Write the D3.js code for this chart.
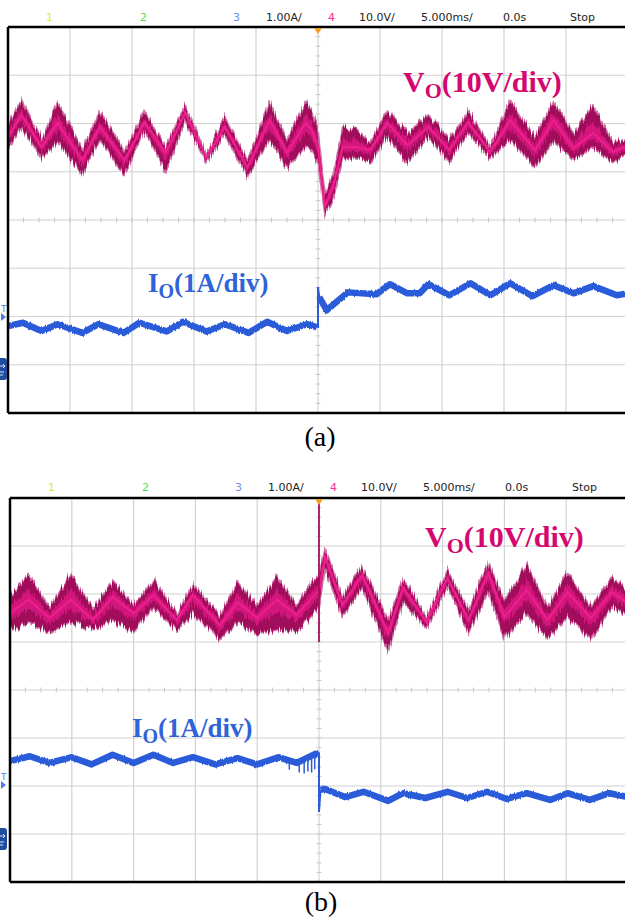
<!DOCTYPE html>
<html>
<head>
<meta charset="utf-8">
<title>Load step waveforms</title>
<script src="https://d3js.org/d3.v7.min.js"></script>
<style>
  body { margin: 0; background: #fff; }
  svg { display: block; }
</style>
</head>
<body>
<div id="chart"></div>
<script>
// ---- scope header ----
var headerLabels = ["1", "2", "3", "1.00A/", "4", "10.0V/", "5.000ms/", "0.0s", "Stop"];
var headerColors = ["#e6e619", "#4cdc4c", "#6f8fe8", "#222", "#ee3399", "#222", "#222", "#222", "#222"];

// ---- (a) output voltage, time in ms, level in screen divisions ----
var vaT   = [-25, -23.9, -22.3, -21.0, -19.0, -17.6, -15.6, -14.0, -12.3, -10.7, -9.0, -7.5, -5.7, -3.9, -2.5, -1.0, -0.5, 0, 0.56, 1.2, 2.0, 3.1, 4.2, 5.6, 7.2, 8.9, 10.6, 12.1, 13.9, 15.5, 17.5, 19.0, 20.6, 22.2, 23.8, 25];
var vaMid = [1.72, 2.18, 1.51, 2.01, 1.24, 1.93, 1.24, 2.03, 1.39, 2.22, 1.28, 1.93, 1.08, 2.07, 1.39, 2.01, 1.87, 1.51, 0.27, 0.68, 1.51, 1.51, 1.45, 2.01, 1.55, 1.93, 1.45, 2.03, 1.41, 2.07, 1.45, 2.07, 1.49, 1.80, 1.41, 1.55];
var vaTop = [1.97, 2.49, 1.66, 2.45, 1.45, 2.28, 1.41, 2.28, 1.51, 2.38, 1.35, 2.13, 1.24, 2.45, 1.66, 2.45, 2.28, 1.87, 0.56, 0.93, 1.93, 1.87, 1.60, 2.28, 1.80, 2.18, 1.66, 2.28, 1.51, 2.49, 1.72, 2.45, 1.80, 2.38, 1.60, 1.70];
var vaBot = [1.45, 1.93, 1.28, 1.60, 0.97, 1.66, 0.93, 1.87, 0.99, 2.03, 1.18, 1.76, 0.89, 1.66, 1.10, 1.51, 1.45, 1.14, 0.10, 0.41, 1.24, 1.31, 1.18, 1.72, 1.18, 1.72, 1.20, 1.82, 1.28, 1.66, 1.10, 1.62, 1.24, 1.51, 1.18, 1.39];

// ---- (a) output current ----
var iaT   = [-25, -23.8, -22.3, -21.0, -19.0, -17.7, -15.7, -14.4, -12.2, -10.9, -9.0, -7.5, -5.6, -4.1, -2.5, -0.9, -0.1,
             0.1, 0.7, 2.4, 4.7, 5.8, 7.2, 8.2, 8.9, 10.6, 12.3, 13.9, 15.5, 17.3, 19.0, 20.6, 22.2, 24.1, 25];
var iaMid = [-2.20, -2.13, -2.30, -2.16, -2.34, -2.16, -2.34, -2.13, -2.31, -2.11, -2.31, -2.16, -2.34, -2.11, -2.30, -2.16, -2.22,
             -1.60, -1.87, -1.50, -1.54, -1.33, -1.52, -1.52, -1.33, -1.56, -1.31, -1.56, -1.31, -1.58, -1.35, -1.52, -1.37, -1.56, -1.52];
var iaSpikeT = [-0.1, 0, 0, 0.1];
var iaSpikeY = [-2.22, -2.22, -1.39, -1.60];

// ---- (b) output voltage ----
var vbT   = [-25, -23.5, -21.8, -20.1, -18.3, -16.7, -15.0, -13.4, -11.5, -10.2, -8.0, -6.6, -5.0, -3.4, -1.8, -0.5, 0, 0.5, 1.9, 3.5, 5.6, 6.8, 8.7, 10.4, 12.1, 13.7, 15.0, 16.8, 18.5, 20.1, 22.0, 23.7, 25];
var vbMid = [1.60, 1.88, 1.50, 1.88, 1.46, 1.94, 1.60, 1.98, 1.46, 1.98, 1.35, 1.83, 1.50, 1.88, 1.56, 1.94, 2.08, 2.77, 1.77, 2.40, 1.19, 2.13, 1.42, 2.33, 1.46, 2.44, 1.52, 2.08, 1.46, 2.04, 1.50, 2.04, 1.81];
var vbTop = [1.94, 2.40, 1.73, 2.40, 1.71, 2.25, 1.77, 2.29, 1.60, 2.19, 1.56, 2.25, 1.77, 2.35, 1.77, 2.29, 2.40, 2.96, 1.94, 2.60, 1.46, 2.33, 1.52, 2.50, 1.67, 2.67, 1.88, 2.60, 1.73, 2.44, 1.73, 2.35, 2.08];
var vbBot = [1.25, 1.40, 1.19, 1.42, 1.25, 1.46, 1.19, 1.71, 1.25, 1.60, 1.04, 1.40, 1.15, 1.25, 1.21, 1.56, 1.71, 2.50, 1.52, 2.13, 0.79, 1.83, 1.29, 2.15, 1.19, 2.04, 1.04, 1.60, 1.08, 1.52, 1.04, 1.73, 1.56];
var vbSpikeT = [0, 0];
var vbSpikeY = [3.96, 1.0];

// ---- (b) output current ----
var ibT   = [-25, -23.4, -21.8, -20.0, -18.4, -16.7, -15.0, -13.4, -11.8, -10.2, -8.4, -6.6, -5.0, -3.3, -1.8, -0.3, -0.05,
             0.12, 0.5, 2.1, 3.6, 5.6, 6.8, 8.6, 10.4, 12.0, 13.6, 15.2, 16.8, 18.7, 20.1, 21.9, 23.5, 25];
var ibMid = [-1.48, -1.38, -1.52, -1.40, -1.55, -1.35, -1.52, -1.35, -1.52, -1.40, -1.55, -1.42, -1.55, -1.40, -1.52, -1.33, -1.35,
             -2.08, -2.06, -2.23, -2.12, -2.31, -2.15, -2.25, -2.12, -2.25, -2.12, -2.27, -2.15, -2.29, -2.15, -2.29, -2.15, -2.23];
var ibSpikeT = [-0.05, 0, 0, 0.12];
var ibSpikeY = [-1.35, -1.30, -2.54, -2.08];
var ibGlitchT  = [-2.4, -1.6, -1.2, -0.9, -0.6, -0.35];
var ibGlitchHi = [-1.45, -1.45, -1.42, -1.42, -1.40, -1.38];
var ibGlitchLo = [-1.66, -1.72, -1.74, -1.70, -1.72, -1.65];

function pts(t, a, b, c) {
    return t.map(function (v, i) {
        return { t: v, mid: a[i], top: b ? b[i] : null, bot: c ? c[i] : null };
    });
}

var panels = [
    { left: 8, top: 27, width: 620, height: 386, headerY: 21, caption: "(a)", captionY: 446,
      volt: pts(vaT, vaMid, vaTop, vaBot), cur: pts(iaT, iaMid),
      curSpike: pts(iaSpikeT, iaSpikeY), voltSpike: null, glitch: null,
      vLabel: [403, 92], iLabel: [148, 292], trigY: 317, gndY: 358 },
    { left: 10, top: 498, width: 618, height: 384, headerY: 491, caption: "(b)", captionY: 911,
      volt: pts(vbT, vbMid, vbTop, vbBot), cur: pts(ibT, ibMid),
      curSpike: pts(ibSpikeT, ibSpikeY), voltSpike: pts(vbSpikeT, vbSpikeY),
      glitch: pts(ibGlitchT, ibGlitchHi, ibGlitchLo),
      vLabel: [425, 547], iLabel: [132, 737], trigY: 785, gndY: 828 }
];

var svg = d3.select("#chart").append("svg")
    .attr("width", 625)
    .attr("height", 924);

var defs = svg.append("defs");
var f = defs.append("filter").attr("id", "noise")
    .attr("x", "-2%").attr("y", "-40%").attr("width", "104%").attr("height", "180%");
f.append("feTurbulence").attr("type", "fractalNoise").attr("baseFrequency", "0.7 0.02")
    .attr("numOctaves", 2).attr("seed", 4).attr("result", "turb");
var ct = f.append("feComponentTransfer").attr("in", "turb").attr("result", "turb2");
ct.append("feFuncR").attr("type", "linear").attr("slope", 0).attr("intercept", 0.5);
f.append("feDisplacementMap").attr("in", "SourceGraphic").attr("in2", "turb2")
    .attr("scale", 14).attr("xChannelSelector", "R").attr("yChannelSelector", "G");

// lighter jitter for the current traces
var f2 = defs.append("filter").attr("id", "noise2")
    .attr("x", "-2%").attr("y", "-40%").attr("width", "104%").attr("height", "180%");
f2.append("feTurbulence").attr("type", "fractalNoise").attr("baseFrequency", "0.7 0.02")
    .attr("numOctaves", 2).attr("seed", 9).attr("result", "turb");
var ct2 = f2.append("feComponentTransfer").attr("in", "turb").attr("result", "turb2");
ct2.append("feFuncR").attr("type", "linear").attr("slope", 0).attr("intercept", 0.5);
f2.append("feDisplacementMap").attr("in", "SourceGraphic").attr("in2", "turb2")
    .attr("scale", 3).attr("xChannelSelector", "R").attr("yChannelSelector", "G");

var headerX = [46, 140, 233, 266, 328, 359, 421, 503, 570];

panels.forEach(function (p, k) {
    var x = d3.scaleLinear().domain([-25, 25]).range([p.left, p.left + p.width]);
    var y = d3.scaleLinear().domain([-4, 4]).range([p.top + p.height, p.top]);
    var g = svg.append("g");

    // header
    g.selectAll(".hdr").data(headerLabels).enter().append("text")
        .attr("x", function (d, i) { return headerX[i] + p.left - 8; })
        .attr("y", p.headerY)
        .attr("fill", function (d, i) { return headerColors[i]; })
        .style("font-family", "DejaVu Sans, sans-serif")
        .style("font-size", "11px")
        .text(function (d) { return d; });

    defs.append("clipPath").attr("id", "clip" + k).append("rect")
        .attr("x", p.left).attr("y", p.top).attr("width", p.width).attr("height", p.height);

    // grid
    g.selectAll(".vg").data(x.ticks(10)).enter().append("line")
        .attr("x1", x).attr("x2", x).attr("y1", p.top).attr("y2", p.top + p.height)
        .style("stroke", "#d2d2d2").style("stroke-width", 1.2);
    g.selectAll(".hg").data(y.ticks(8)).enter().append("line")
        .attr("y1", y).attr("y2", y).attr("x1", p.left).attr("x2", p.left + p.width)
        .style("stroke", "#d2d2d2").style("stroke-width", 1.2);

    // minor ticks on the centre lines
    g.selectAll(".mx").data(d3.range(-25, 25.01, 1.25)).enter().append("line")
        .attr("x1", x).attr("x2", x).attr("y1", y(0) - 2.5).attr("y2", y(0) + 2.5)
        .style("stroke", "#c8c8c8").style("stroke-width", 1);
    g.selectAll(".my").data(d3.range(-4, 4.01, 0.2)).enter().append("line")
        .attr("y1", y).attr("y2", y).attr("x1", x(0) - 2.5).attr("x2", x(0) + 2.5)
        .style("stroke", "#c8c8c8").style("stroke-width", 1);

    var plot = g.append("g").attr("clip-path", "url(#clip" + k + ")");

    // voltage band
    var outer = d3.area().x(function (d) { return x(d.t); })
        .y0(function (d) { return y(d.bot); }).y1(function (d) { return y(d.top); });
    var inner = d3.area().x(function (d) { return x(d.t); })
        .y0(function (d) { return y(d.mid + 0.4 * (d.bot - d.mid)); })
        .y1(function (d) { return y(d.mid + 0.4 * (d.top - d.mid)); });
    var mid = d3.line().x(function (d) { return x(d.t); }).y(function (d) { return y(d.mid); });

    var band = plot.append("g").attr("filter", "url(#noise)");
    band.append("path").datum(p.volt).attr("d", outer)
        .style("fill", "#a0085a").style("stroke", "#cf6fa5").style("stroke-width", 1.5);
    band.append("path").datum(p.volt).attr("d", inner).style("fill", "#d2127b");
    plot.append("path").datum(p.volt).attr("d", mid)
        .style("fill", "none").style("stroke", "#ec1f8c").style("stroke-width", 2.2);

    if (p.voltSpike) {
        plot.append("path").datum(p.voltSpike).attr("d", mid)
            .style("fill", "none").style("stroke", "#a3105e").style("stroke-width", 1.8);
    }

    // current trace
    var before = p.cur.filter(function (d) { return d.t < 0; });
    var after = p.cur.filter(function (d) { return d.t > 0; });
    var curG = plot.append("g").attr("filter", "url(#noise2)");
    [before, after].forEach(function (seg) {
        curG.append("path").datum(seg).attr("d", mid)
            .style("fill", "none").style("stroke", "#2c5cda").style("stroke-width", 6.5)
            .style("stroke-linejoin", "round").style("stroke-linecap", "butt");
    });
    plot.append("path").datum(p.curSpike).attr("d", mid)
        .style("fill", "none").style("stroke", "#2c5cda").style("stroke-width", 2);
    if (p.glitch) {
        plot.selectAll(".gl").data(p.glitch).enter().append("line")
            .attr("x1", function (d) { return x(d.t); }).attr("x2", function (d) { return x(d.t); })
            .attr("y1", function (d) { return y(d.mid); }).attr("y2", function (d) { return y(d.top); })
            .style("stroke", "#2c5cda").style("stroke-width", 1.5);
    }

    // frame
    g.append("line").attr("x1", p.left).attr("x2", 625).attr("y1", p.top).attr("y2", p.top)
        .style("stroke", "#000").style("stroke-width", 2.5);
    g.append("line").attr("x1", p.left).attr("x2", 625).attr("y1", p.top + p.height).attr("y2", p.top + p.height)
        .style("stroke", "#000").style("stroke-width", 2.5);
    g.append("line").attr("x1", p.left).attr("x2", p.left).attr("y1", p.top).attr("y2", p.top + p.height)
        .style("stroke", "#000").style("stroke-width", 2.5);

    // trigger position marker
    var cx = x(0);
    g.append("path").attr("d", "M" + (cx - 4) + "," + (p.top + 1) + "L" + (cx + 4) + "," + (p.top + 1) + "L" + cx + "," + (p.top + 7) + "Z")
        .style("fill", "#f0a020");

    // trigger level and ground markers on the left
    g.append("text").attr("x", 1).attr("y", p.trigY - 5).text("T")
        .style("font-family", "DejaVu Sans, sans-serif").style("font-size", "9px").style("fill", "#4f7be6");
    g.append("path").attr("d", "M1," + (p.trigY - 4) + "L6," + p.trigY + "L1," + (p.trigY + 4) + "Z")
        .style("fill", "#4f7be6");
    g.append("rect").attr("x", -4).attr("y", p.gndY).attr("width", 11).attr("height", 22).attr("rx", 3)
        .style("fill", "#1f4f9c");
    g.append("path").attr("d", "M0," + (p.gndY + 8) + "L5," + (p.gndY + 8) + "M3," + (p.gndY + 6) + "L5," + (p.gndY + 8) + "L3," + (p.gndY + 10) +
        "M0," + (p.gndY + 14) + "L4," + (p.gndY + 14) + "M0," + (p.gndY + 17) + "L3," + (p.gndY + 17))
        .style("stroke", "#cfe0ff").style("stroke-width", 1).style("fill", "none");

    // trace labels
    var vt = g.append("text").attr("x", p.vLabel[0]).attr("y", p.vLabel[1])
        .style("font-family", "Liberation Serif, Times New Roman, serif").style("font-weight", "bold")
        .style("font-size", "30px").style("fill", "#d4086f");
    vt.append("tspan").text("V");
    vt.append("tspan").attr("dy", 6).style("font-size", "22px").text("O");
    vt.append("tspan").attr("dy", -6).text("(10V/div)");

    var it = g.append("text").attr("x", p.iLabel[0]).attr("y", p.iLabel[1])
        .style("font-family", "Liberation Serif, Times New Roman, serif").style("font-weight", "bold")
        .style("font-size", "27px").style("fill", "#2f63d8");
    it.append("tspan").text("I");
    it.append("tspan").attr("dy", 6).style("font-size", "20px").text("O");
    it.append("tspan").attr("dy", -6).text("(1A/div)");

    // caption
    g.append("text").attr("x", x(0) + 2).attr("y", p.captionY).attr("text-anchor", "middle")
        .style("font-family", "Liberation Serif, Times New Roman, serif").style("font-size", "28px")
        .style("fill", "#000").text(p.caption);
});
</script>
</body>
</html>
